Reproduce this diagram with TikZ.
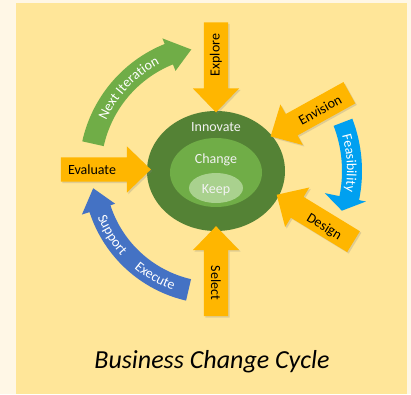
\documentclass[tikz,border=0pt]{standalone}
\usepackage{fontspec}
\setmainfont{Carlito}
\definecolor{paper}{RGB}{255, 247, 230}
\definecolor{panel}{RGB}{255, 230, 153}
\definecolor{stagegold}{RGB}{255, 182, 0}
\definecolor{darkleaf}{RGB}{84, 130, 53}
\definecolor{midleaf}{RGB}{112, 173, 71}
\definecolor{paleleaf}{RGB}{169, 209, 142}
\definecolor{loopblue}{RGB}{68, 114, 196}
\definecolor{skyblue}{RGB}{0, 160, 240}
\usetikzlibrary{shapes.arrows, shapes.geometric, shadows, decorations.text, positioning}

\begin{document}
\begin{tikzpicture}[x=1pt, y=1pt,
  stagearrow/.style={single arrow, fill=stagegold, minimum height=90pt, minimum width=46pt,
    single arrow head extend=11pt, single arrow tip angle=88, inner sep=12pt,
    drop shadow={shadow xshift=1.5pt, shadow yshift=-1.5pt, opacity=0.25}},
  stagelabel/.style={font=\fontsize{14}{16}\selectfont, inner sep=0pt},
  ringlabel/.style={font=\fontsize{14}{16}\selectfont, text=white!95!black, inner sep=0pt}]
  \useasboundingbox (-216,-223) rectangle (195,171);
  \fill[paper] (-216,-223) rectangle (195,171);
  \fill[panel] (-200,-223) rectangle (191,168);

  % ===== CORE (centre) =====
  \node[ellipse, fill=darkleaf, minimum width=138pt, minimum height=120pt, inner sep=0pt] (innovate) at (0,0) {};
  \node[ellipse, fill=midleaf, minimum width=92pt, minimum height=69pt, inner sep=0pt] (change) at (0,-1.5) {};
  \node[ellipse, fill=paleleaf, minimum width=54pt, minimum height=30pt, inner sep=0pt] (keep) at (0,-17) {};
  \node[ringlabel] at (0,44) {Innovate};
  \node[ringlabel] at (0,11) {Change};
  \node[ringlabel] at (0,-19) {Keep};

  % ===== STAGES (straight arrows) =====
  \node[stagearrow, rotate=270] (explore) at (0,110) {};
  \node[stagelabel, rotate=90] at (0,116) {Explore};

  \node[stagearrow, rotate=209] (envision) at (99.5,59.5) {};
  \node[stagelabel, rotate=29] at (104,61) {Envision};

  \node[stagearrow, rotate=148.6] (design) at (104.5,-50.5) {};
  \node[stagelabel, rotate=-31.4] at (108,-56) {Design};

  \node[stagearrow, rotate=90] (select) at (0,-106.5) {};
  \node[stagelabel, rotate=-90] at (0,-112) {Select};

  \node[stagearrow] (evaluate) at (-116.5,1.5) {};
  \node[stagelabel] at (-124,1) {Evaluate};

  % ===== LOOPS (curved arrows) =====
  \fill[midleaf] (167.5:137) arc[start angle=167.5, end angle=112, radius=137] -- (112:143)
    -- (101.5:124) -- (112:108) -- (112:115) arc[start angle=112, end angle=167.5, radius=115] -- cycle;
  \path[decorate, decoration={text along path, text align=center,
    text={|\fontsize{14}{16}\selectfont\color{white}|Next Iteration}}]
    (160:121) arc[start angle=160, end angle=113, radius=121];

  \fill[loopblue] (257:133) arc[start angle=257, end angle=198, radius=133] -- (198:141)
    -- (188:124) -- (198:106) -- (198:111) arc[start angle=198, end angle=257, radius=111] -- cycle;
  \path[decorate, decoration={text along path, text align=center,
    text={|\fontsize{14}{16}\selectfont\color{white}|Support}}]
    (201:127) arc[start angle=201, end angle=222, radius=127];
  \path[decorate, decoration={text along path, text align=center,
    text={|\fontsize{14}{16}\selectfont\color{white}|Execute}}]
    (230:127) arc[start angle=230, end angle=250, radius=127];

  \fill[skyblue] (21:146) arc[start angle=21, end angle=-11.5, radius=146] -- (-11.5:153)
    -- (-17.5:132) -- (-11.5:111) -- (-11.5:126) arc[start angle=-11.5, end angle=21, radius=126] -- cycle;
  \path[decorate, decoration={text along path, text align=center,
    text={|\fontsize{14}{16}\selectfont\color{white}|Feasibility}}]
    (17:131) arc[start angle=17, end angle=-10, radius=131];

  % Title
  \node[font=\fontsize{26}{30}\selectfont\itshape] (title) at (-4,-191) {Business Change Cycle};
\end{tikzpicture}
\end{document}
